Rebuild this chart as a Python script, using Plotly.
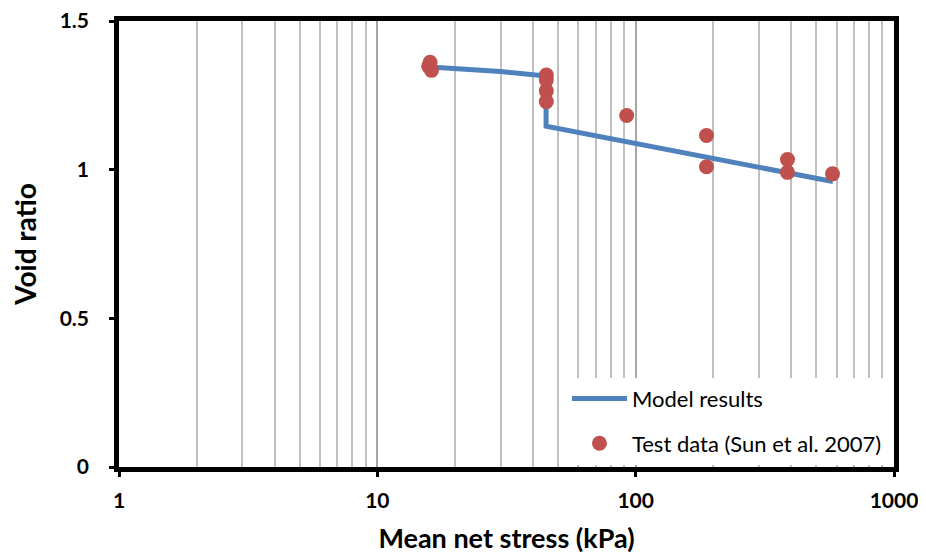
import plotly.graph_objects as go

# Model results (mean net stress kPa, void ratio)
model_p = [16.0, 30.0, 45.0, 45.0, 580.0]
model_e = [1.345, 1.330, 1.315, 1.146, 0.960]

# Test data (Sun et al. 2007)
test_p = [16.0, 15.8, 16.2, 45.1, 45.1, 45.1, 45.1, 92.3, 188.0, 188.0, 387.0, 387.0, 578.0]
test_e = [1.361, 1.348, 1.334, 1.318, 1.302, 1.265, 1.229, 1.182, 1.115, 1.010, 1.034, 0.991, 0.986]

x_ticks = [1, 10, 100, 1000]
x_labels = ["1", "10", "100", "1000"]
y_ticks = [0, 0.5, 1, 1.5]
y_labels = ["0", "0.5", "1", "1.5"]

FONT = "Lato"

fig = go.Figure()
fig.add_trace(go.Scatter(
    x=model_p, y=model_e, mode="lines", name="Model results",
    line=dict(color="#4F81BD", width=5), legendgroup="a"))
fig.add_trace(go.Scatter(
    x=test_p, y=test_e, mode="markers", name="Test data (Sun et al. 2007)",
    marker=dict(color="#C0504D", size=15), legendgroup="b"))

fig.update_layout(
    width=926, height=560,
    margin=dict(l=111, r=40, t=13, b=101),
    paper_bgcolor="white", plot_bgcolor="white",
    font=dict(family=FONT, size=18, color="black"),
    showlegend=True,
    legend=dict(x=0.578, y=0.2, xanchor="left", yanchor="top",
                bgcolor="rgba(255,255,255,1)", font=dict(family=FONT, size=22),
                traceorder="grouped", tracegroupgap=13, itemwidth=55),
    xaxis=dict(
        type="log", range=[0, 3], automargin=False,
        title=dict(text="<b>Mean net stress (kPa)</b>", font=dict(size=27), standoff=20),
        tickvals=x_ticks, ticktext=["<b>%s</b>" % t for t in x_labels],
        showline=True, mirror=True, linecolor="black", linewidth=4.5,
        ticks="outside", ticklen=5, tickwidth=3, tickcolor="black",
        ticklabelstandoff=6, ticklabeloverflow="allow",
        showgrid=True, gridcolor="#a6a6a6", gridwidth=1.5,
        minor=dict(dtick="D1", showgrid=True, gridcolor="#c0c0c0", gridwidth=1.5, ticks=""),
        zeroline=False, tickfont=dict(size=21),
    ),
    yaxis=dict(
        range=[0, 1.5], automargin=False,
        title=dict(text="<b>Void ratio</b>", font=dict(size=28), standoff=20),
        tickvals=y_ticks, ticktext=["<b>%s</b>" % t for t in y_labels],
        showline=True, mirror=True, linecolor="black", linewidth=4.5,
        ticks="outside", ticklen=5, tickwidth=3, tickcolor="black",
        ticklabelstandoff=16, ticklabeloverflow="allow",
        showgrid=False, zeroline=False, tickfont=dict(size=21),
    ),
)

fig.write_html("out.html")
